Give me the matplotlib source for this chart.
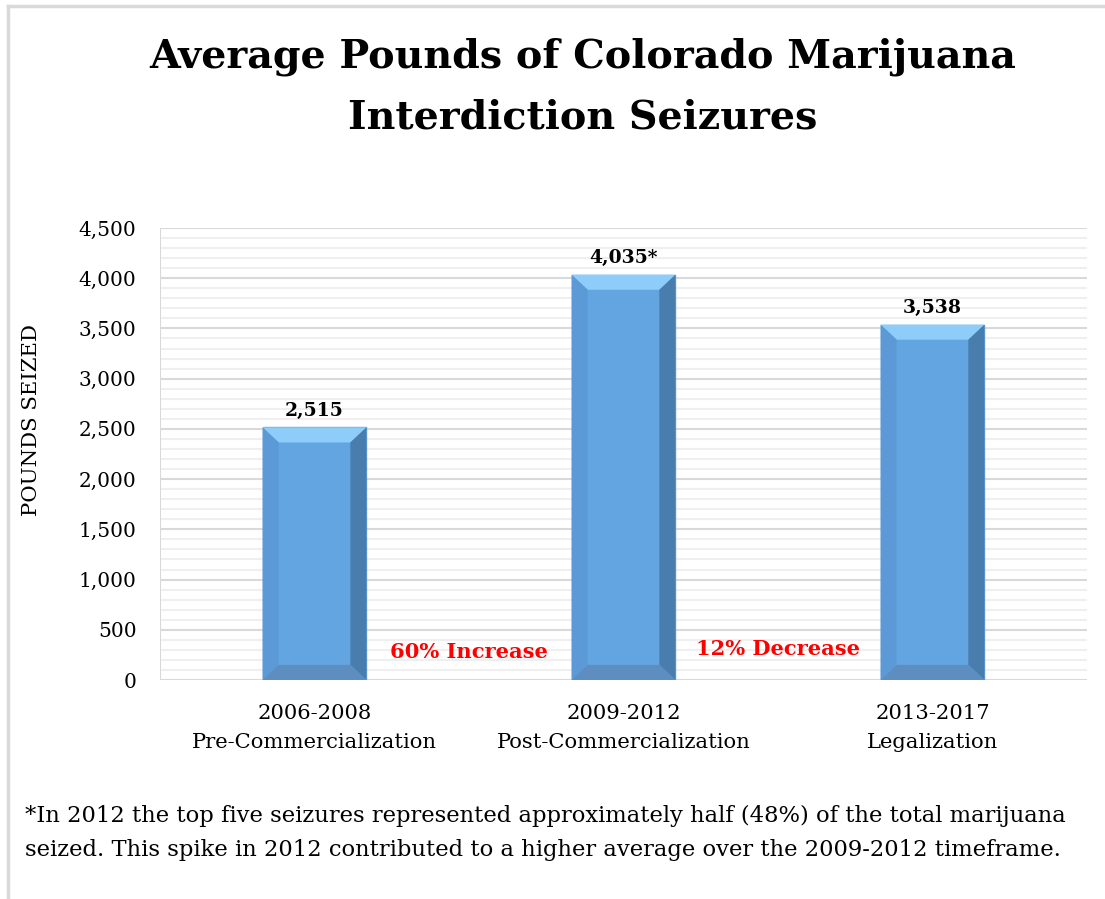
import matplotlib.pyplot as plt
from matplotlib.patches import Polygon, Rectangle
import numpy as np

periods = ["2006-2008", "2009-2012", "2013-2017"]
phases = ["Pre-Commercialization", "Post-Commercialization", "Legalization"]
pounds = [2515, 4035, 3538]
value_labels = ["2,515", "4,035*", "3,538"]
changes = ["60% Increase", "12% Decrease"]
yticks = [0, 500, 1000, 1500, 2000, 2500, 3000, 3500, 4000, 4500]

plt.rcParams['font.family'] = ['DejaVu Serif']

fig = plt.figure(figsize=(11.05, 8.99), dpi=100)
W, H = 1105, 899
ax = fig.add_axes([160 / W, 1 - 680 / H, (1087 - 160) / W, (680 - 228) / H])

x = np.arange(len(pounds))
bw = 0.336
ax.set_xlim(-0.5, 2.5)
ax.set_ylim(0, 4500)

# grid: minor every 100, major every 500
for v in range(100, 4500, 100):
    if v % 500:
        ax.axhline(v, color='#efefef', lw=1.5, zorder=0)
for v in yticks:
    ax.axhline(v, color='#d9d9d9', lw=1.5, zorder=0)
ax.axvline(-0.5, color='#d9d9d9', lw=1.5, zorder=0)

# beveled bars
bx = 0.052   # bevel width in data units
by = 150     # bevel height in data units
for xi, v in zip(x, pounds):
    l, r = xi - bw / 2, xi + bw / 2
    ax.add_patch(Rectangle((l, 0), bw, v, color='#63a5e1', zorder=2))
    ax.add_patch(Polygon([(l, v), (r, v), (r - bx, v - by), (l + bx, v - by)],
                         closed=True, color='#8ecdfa', lw=0, zorder=3))
    ax.add_patch(Polygon([(l, 0), (l + bx, by), (l + bx, v - by), (l, v)],
                         closed=True, color='#5b9ad6', lw=0, zorder=3))
    ax.add_patch(Polygon([(r, 0), (r, v), (r - bx, v - by), (r - bx, by)],
                         closed=True, color='#497dad', lw=0, zorder=3))
    ax.add_patch(Polygon([(l, 0), (r, 0), (r - bx, by), (l + bx, by)],
                         closed=True, color='#5e8ebf', lw=0, zorder=3))

for xi, v, lab in zip(x, pounds, value_labels):
    ax.text(xi, v + 75, lab, ha='center', va='bottom', fontsize=13.5,
            fontweight='bold', color='black')

ax.text(0.5, 280, changes[0], ha='center', va='center', fontsize=15.1,
        fontweight='bold', color='#ff0000')
ax.text(1.5, 310, changes[1], ha='center', va='center', fontsize=15.1,
        fontweight='bold', color='#ff0000')

ax.set_xticks(x)
ax.set_xticklabels([p + "\n" + q for p, q in zip(periods, phases)],
                   fontsize=15.2, linespacing=1.7)
ax.set_yticks(yticks)
ax.set_yticklabels([f"{v:,}" for v in yticks], fontsize=14.5)
ax.tick_params(length=0, pad=17)
ax.tick_params(axis='x', pad=17)
for s in ax.spines.values():
    s.set_visible(False)

fig.text(32 / W, 1 - 420 / H, "POUNDS SEIZED", rotation=90, ha='center',
         va='center', fontsize=15.3)

fig.text(583 / W, 1 - 87 / H,
         "Average Pounds of Colorado Marijuana\nInterdiction Seizures",
         ha='center', va='center', fontsize=28.5, fontweight='bold',
         linespacing=1.75)

fig.text(25 / W, 1 - 833 / H,
         "*In 2012 the top five seizures represented approximately half (48%) of the total marijuana\n"
         "seized. This spike in 2012 contributed to a higher average over the 2009-2012 timeframe.",
         ha='left', va='center', fontsize=16.3, linespacing=1.7)

# outer frame (left and top edges)
fig.add_artist(plt.Line2D([8 / W, 8 / W], [0, 1 - 6 / H], color='#d9d9d9',
                          lw=2.5, transform=fig.transFigure))
fig.add_artist(plt.Line2D([8 / W, 1], [1 - 6 / H, 1 - 6 / H], color='#d9d9d9',
                          lw=2.5, transform=fig.transFigure))

fig.savefig("out.png", dpi=100)
